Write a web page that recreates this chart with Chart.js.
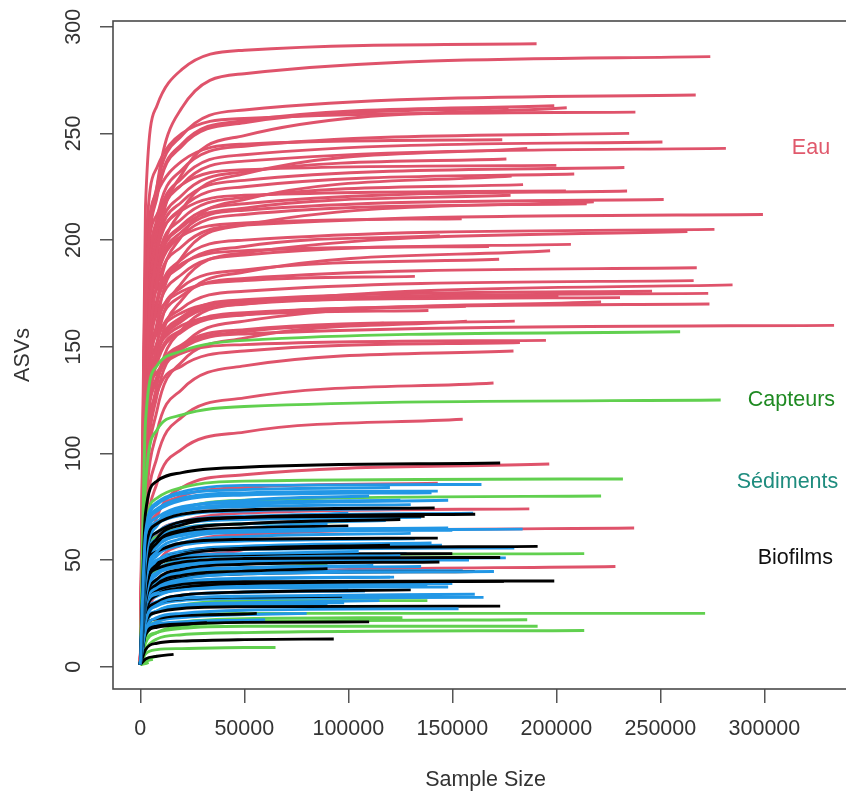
<!DOCTYPE html>
<html>
<head>
<meta charset="utf-8">
<script src="https://cdn.jsdelivr.net/npm/chart.js@4/dist/chart.umd.min.js"></script>
<style>
  html, body { margin: 0; padding: 0; overflow: hidden; background: #fff; }
  canvas { display: block; }
</style>
</head>
<body>
<canvas id="the-graph" width="880" height="795"></canvas>
<script>
// axis ticks
var xTicks = [0, 50000, 100000, 150000, 200000, 250000, 300000];
var yTicks = [0, 50, 100, 150, 200, 250, 300];

var sampleSteps = [2500, 8000, 20000, 50000];

var groupNames = ['Eau', 'Capteurs', 'Sédiments', 'Biofilms'];

// one row per sample: [max sample size, ASVs at each sampleStep below the max..., ASVs at max]
var eauCurves = [
  [190500, 216, 263, 280, 289, 292],
  [274000, 160, 225, 262, 278, 286],
  [267000, 166, 225, 249, 261, 268],
  [199000, 163, 221, 245, 256, 263],
  [205000, 126, 194, 231, 249, 262],
  [238000, 192, 234, 250, 257, 260],
  [177000, 162, 220, 244, 255, 262],
  [235000, 155, 210, 233, 244, 250],
  [251000, 153, 207, 229, 240, 246],
  [174000, 183, 222, 237, 245, 247],
  [281500, 151, 204, 226, 237, 243],
  [186000, 117, 180, 214, 231, 243],
  [176000, 148, 200, 221, 232, 238],
  [232700, 145, 197, 218, 228, 234],
  [200000, 174, 212, 226, 233, 235],
  [208600, 143, 194, 215, 225, 231],
  [178500, 110, 170, 202, 219, 230],
  [184000, 140, 190, 210, 220, 226],
  [234000, 138, 187, 207, 217, 223],
  [204600, 165, 201, 214, 221, 223],
  [178000, 137, 186, 206, 215, 221],
  [251600, 136, 184, 204, 214, 219],
  [218000, 105, 161, 192, 207, 218],
  [214600, 135, 182, 202, 212, 217],
  [299300, 131, 178, 197, 207, 212],
  [154500, 155, 189, 202, 208, 210],
  [276000, 127, 172, 191, 200, 205],
  [263000, 98, 151, 180, 194, 204],
  [144000, 125, 170, 188, 197, 202],
  [207000, 123, 166, 184, 193, 198],
  [167600, 146, 177, 189, 195, 197],
  [197000, 94, 144, 172, 185, 195],
  [172500, 118, 160, 178, 186, 191],
  [267500, 116, 157, 174, 182, 187],
  [132000, 135, 165, 176, 181, 183],
  [266000, 112, 152, 168, 176, 181],
  [284700, 86, 132, 158, 170, 179],
  [246000, 109, 148, 164, 172, 176],
  [273000, 109, 147, 163, 171, 175],
  [230600, 128, 156, 166, 171, 173],
  [201000, 108, 146, 162, 170, 174],
  [221500, 82, 127, 150, 162, 171],
  [273600, 105, 143, 158, 166, 170],
  [156500, 105, 142, 157, 165, 169],
  [138500, 124, 150, 160, 165, 167],
  [333500, 99, 134, 149, 156, 160],
  [157000, 78, 120, 143, 154, 162],
  [180000, 100, 136, 151, 158, 162],
  [117000, 100, 135, 150, 157, 161],
  [182500, 94, 128, 141, 148, 152],
  [195000, 113, 138, 147, 151, 153],
  [179400, 71, 110, 130, 141, 148],
  [169800, 64, 98, 117, 126, 133],
  [155000, 56, 86, 102, 110, 116],
  [196600, 46, 70, 84, 90, 95],
  [143000, 53, 72, 80, 84, 86],
  [187000, 46, 62, 68, 72, 74],
  [237400, 31, 48, 57, 62, 65],
  [228400, 22, 34, 41, 44, 47],
  [51000, 35, 47, 52, 55, 56]
];

var capteursCurves = [
  [259500, 115, 141, 148, 153, 157],
  [279000, 85, 111, 118, 122, 125],
  [232000, 65, 79, 84, 87, 88],
  [221500, 50, 67, 74, 78, 80],
  [100000, 50, 61, 65, 67, 68],
  [213400, 33, 45, 50, 52, 53],
  [90000, 30, 40, 44, 46, 48],
  [138000, 19, 26, 29, 31, 31],
  [271500, 16, 21, 24, 25, 25],
  [126000, 14, 19, 21, 22.5, 23],
  [186000, 11, 16, 19, 21, 22],
  [191000, 12, 16, 18, 19, 19],
  [213400, 8, 13, 15, 16, 17],
  [65000, 6, 8, 8.5, 9, 9],
  [8000, 3, 5],
  [6000, 2.5, 3.5],
  [4000, 1.5, 2]
];

var sedimentsCurves = [
  [164000, 63, 77, 82, 85, 85.4],
  [143000, 61, 74, 79, 81.5, 82.3],
  [148000, 49, 66, 73, 76, 78],
  [130000, 56, 68, 73, 75, 76],
  [183800, 40, 54, 60, 63, 64.5],
  [148000, 48, 58, 62, 64, 65],
  [130000, 39, 52, 58, 61, 62.5],
  [179800, 41, 50, 53, 55, 55.6],
  [175700, 32, 43, 47, 50, 51],
  [170000, 28, 37, 41, 43.5, 44.6],
  [148000, 28, 34, 36, 37, 37.4],
  [160800, 21, 29, 32, 33, 34],
  [153000, 17, 23, 25, 26.5, 27.2],
  [120000, 62, 76, 81, 83, 84],
  [110000, 50, 67, 74, 78, 80],
  [125000, 55, 67, 71, 73, 74],
  [100000, 45, 60, 67, 70, 72],
  [135000, 52, 63, 67, 69, 70],
  [90000, 42, 56, 62, 65, 67],
  [115000, 44, 54, 58, 59, 60],
  [140000, 36, 49, 54, 56.5, 58],
  [105000, 40, 49, 52, 53, 54],
  [125000, 32, 44, 48, 51, 52],
  [95000, 36, 44, 47, 48.5, 49],
  [135000, 29, 39, 44, 46, 47],
  [120000, 31, 38, 40, 41.5, 42],
  [110000, 25, 34, 37, 39, 40],
  [150000, 29, 35, 37.5, 38.6, 39],
  [100000, 22, 30, 33.5, 35, 36],
  [130000, 24, 30, 32, 32.7, 33],
  [115000, 19, 26, 29, 30, 31],
  [90000, 21, 26, 28, 28.7, 29],
  [80000, 15.5, 21, 23, 24.4, 25],
  [60000, 16, 20, 21, 21.8, 22],
  [155000, 33, 40.5, 43, 44.5, 45],
  [140000, 60, 73, 78, 80.5, 81.5],
  [125000, 58, 70, 75, 77, 78],
  [160000, 50, 63, 68, 70.5, 72],
  [118000, 48, 60, 65, 67, 68.5],
  [150000, 45, 57, 61.5, 63.5, 64],
  [132000, 43, 53, 57, 59, 60],
  [145000, 38, 49, 54, 56, 57],
  [128000, 37, 46, 50, 52, 53],
  [158000, 34, 44, 48, 49.5, 50],
  [112000, 33, 41, 45, 46.5, 47.5],
  [142000, 30, 39, 42.5, 44, 45],
  [122000, 28, 36, 39.5, 41, 42],
  [138000, 26, 33, 36.5, 37.8, 38.5],
  [108000, 24, 30.5, 33.5, 34.8, 35.5],
  [165000, 22, 28.5, 31, 32, 32.5],
  [98000, 20, 26, 28.5, 29.5, 30]
];

var biofilmsCurves = [
  [173000, 72, 87, 91, 93.5, 95.5],
  [141500, 55, 67, 71.5, 73.5, 74.4],
  [161000, 44, 60, 66.5, 70, 71.5],
  [136700, 52, 63, 68, 70, 70.5],
  [125000, 43, 58, 64, 67, 69],
  [143000, 45, 54, 58, 59.7, 60.3],
  [191000, 35, 47, 52.5, 55, 56.4],
  [173000, 38, 46, 49, 50.7, 51.2],
  [143800, 30, 41, 45.7, 48, 49.1],
  [160800, 28, 37.5, 41.5, 43.5, 44.6],
  [199000, 30, 36, 38.6, 39.8, 40.2],
  [174800, 25, 33.6, 37, 39, 40],
  [173000, 21, 25.5, 27.3, 28.1, 28.4],
  [110000, 15.5, 19, 20, 20.8, 21],
  [93000, 8, 11, 12, 12.7, 13],
  [32000, 15, 18.5, 19.8, 20.6],
  [16000, 3.6, 4.9, 5.8],
  [100000, 49, 59, 63, 65, 66],
  [120000, 35, 48, 53, 55.5, 57],
  [90000, 28.5, 38.6, 42.8, 44.8, 46],
  [97000, 24, 30, 31.7, 32.7, 33],
  [56000, 18.5, 22.5, 24, 24.7, 25],
  [130000, 22, 30, 33.5, 35, 36],
  [150000, 39, 48, 51, 52.5, 53]
];

var lineColors = { 'Eau': '#DF536B', 'Capteurs': '#61D04F', 'Sédiments': '#2297E6', 'Biofilms': '#000000' };
var textColors = { 'Eau': '#E0596C', 'Capteurs': '#1F8A22', 'Sédiments': '#1E8C7E', 'Biofilms': '#111111' };
var labelAt = { 'Eau': [322400, 243], 'Capteurs': [313000, 125], 'Sédiments': [311100, 86.7], 'Biofilms': [314900, 51] };

var FONT = '21.5px "Liberation Sans", Arial, sans-serif';

function curvePoints(c) {
  var last = c.length - 1,
      pts = [{ x: 0, y: 1 }];
  for (var i = 1; i < last; i++) pts.push({ x: sampleSteps[i - 1], y: c[i] });
  pts.push({ x: c[0], y: c[last] });
  return pts;
}

function toDatasets(curves, group) {
  return curves.map(function (c) {
    return { label: group, data: curvePoints(c), borderColor: lineColors[group] };
  });
}

// blue and black curves interleaved so neither colour sits entirely on top
var blue = toDatasets(sedimentsCurves, 'Sédiments'),
    black = toDatasets(biofilmsCurves, 'Biofilms'),
    mixed = [];
for (var i = 0; i < Math.max(blue.length, black.length); i++) {
  if (blue[i]) mixed.push(blue[i]);
  if (black[i]) mixed.push(black[i]);
}
// first dataset is drawn last (on top): water at the bottom, then sensors, then sediments/biofilms
var datasets = mixed
  .concat(toDatasets(capteursCurves, 'Capteurs'))
  .concat(toDatasets(eauCurves, 'Eau'));

var frame = {
  id: 'frame',
  afterDraw: function (chart) {
    var ctx = chart.ctx, a = chart.chartArea,
        xs = chart.scales.x, ys = chart.scales.y;
    ctx.save();
    ctx.strokeStyle = '#4a4a4a';
    ctx.lineWidth = 1.6;
    ctx.strokeRect(a.left, a.top, a.right - a.left, a.bottom - a.top);

    ctx.font = FONT;
    ctx.textAlign = 'center';
    ctx.textBaseline = 'middle';
    ctx.fillStyle = '#333';
    yTicks.forEach(function (v) {
      ctx.save();
      ctx.translate(74, ys.getPixelForValue(v));
      ctx.rotate(-Math.PI / 2);
      ctx.fillText(String(v), 0, 0);
      ctx.restore();
    });

    ctx.fillText('Sample Size', (a.left + a.right) / 2, 780);
    ctx.save();
    ctx.translate(23, (a.top + a.bottom) / 2);
    ctx.rotate(-Math.PI / 2);
    ctx.fillText('ASVs', 0, 0);
    ctx.restore();

    groupNames.forEach(function (g) {
      ctx.fillStyle = textColors[g];
      ctx.fillText(g, xs.getPixelForValue(labelAt[g][0]), ys.getPixelForValue(labelAt[g][1]));
    });
    ctx.restore();
  }
};

new Chart(document.getElementById('the-graph'), {
  type: 'line',
  data: { datasets: datasets },
  options: {
    responsive: false,
    animation: false,
    devicePixelRatio: 1,
    events: [],
    layout: { padding: { top: 21, right: 22, left: 0, bottom: 0 } },
    elements: {
      point: { radius: 0 },
      line: { borderWidth: 2.9, cubicInterpolationMode: 'monotone', fill: false }
    },
    plugins: { legend: { display: false }, tooltip: { enabled: false } },
    scales: {
      x: {
        type: 'linear',
        min: -13120,
        max: 345000,
        afterBuildTicks: function (s) { s.ticks = xTicks.map(function (v) { return { value: v }; }); },
        afterFit: function (s) { s.height = 106; },
        border: { display: false },
        grid: { drawOnChartArea: false, drawTicks: true, tickLength: 14, color: '#555', lineWidth: 1.5 },
        ticks: {
          font: { family: '"Liberation Sans", Arial, sans-serif', size: 21.5 },
          color: '#333',
          padding: 13,
          maxRotation: 0,
          autoSkip: false,
          callback: function (v) { return String(v); }
        }
      },
      y: {
        type: 'linear',
        min: -10.45,
        max: 302.7,
        afterBuildTicks: function (s) { s.ticks = yTicks.map(function (v) { return { value: v }; }); },
        afterFit: function (s) { s.width = 113; },
        border: { display: false },
        grid: { drawOnChartArea: false, drawTicks: true, tickLength: 13, color: '#555', lineWidth: 1.5 },
        ticks: { display: false }
      }
    }
  },
  plugins: [frame]
});
</script>
</body>
</html>
